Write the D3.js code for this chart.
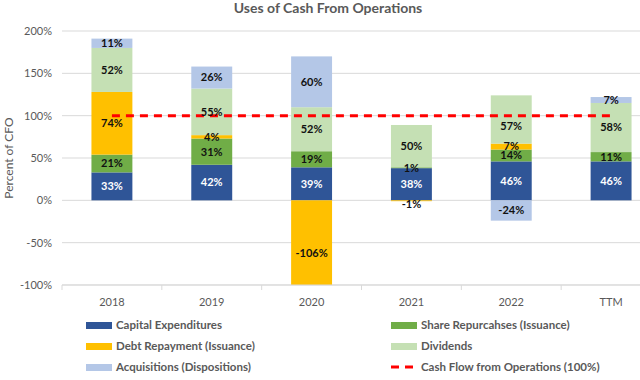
<!DOCTYPE html>
<html>
<head>
<meta charset="utf-8">
<script src="https://cdn.jsdelivr.net/npm/d3@7"></script>
<style>
  body { margin: 0; background: #fff; }
  text { font-family: Lato, "Open Sans", sans-serif; }
</style>
</head>
<body>
<div id="chart"></div>
<script>
// data
var years = ["2018", "2019", "2020", "2021", "2022", "TTM"];
var capex = [33, 42, 39, 38, 46, 46];
var shares = [21, 31, 19, 1, 14, 11];
var debt = [74, 4, -106, -1, 7, 0];
var dividends = [52, 55, 52, 50, 57, 58];
var acquisitions = [11, 26, 60, 0, -24, 7];
var cfoLine = [100, 100, 100, 100, 100, 100];
var yTicks = [-100, -50, 0, 50, 100, 150, 200];

var seriesNames = ["Capital Expenditures", "Share Repurcahses (Issuance)", "Debt Repayment (Issuance)", "Dividends", "Acquisitions (Dispositions)"];
var seriesValues = [capex, shares, debt, dividends, acquisitions];
var seriesColors = ["#2F5597", "#70AD47", "#FFC000", "#C5E0B4", "#B4C7E7"];
var labelColors = ["#fff", "#111", "#111", "#111", "#111"];

var svgWidth = 640;
var svgHeight = 380;

var margin = { top: 31, right: -21, bottom: 95, left: 62 };
var width = svgWidth - margin.left - margin.right;
var height = svgHeight - margin.top - margin.bottom;

var svg = d3.select("#chart").append("svg")
  .attr("width", svgWidth)
  .attr("height", svgHeight);

svg.append("text")
  .attr("x", 328)
  .attr("y", 13)
  .attr("text-anchor", "middle")
  .attr("font-size", 14)
  .attr("font-weight", "bold")
  .attr("fill", "#595959")
  .text("Uses of Cash From Operations");

var chartGroup = svg.append("g")
  .attr("transform", `translate(${margin.left}, ${margin.top})`);

var x = d3.scaleBand().domain(years).range([0, width]).paddingInner(0.59).paddingOuter(0.295);
var y = d3.scaleLinear().domain([-100, 200]).range([height, 0]);

// gridlines
chartGroup.selectAll(".grid").data(yTicks).enter()
  .append("line")
  .attr("x1", 0).attr("x2", width)
  .attr("y1", d => y(d)).attr("y2", d => y(d))
  .attr("stroke", "#d9d9d9").attr("stroke-width", 1);

// y tick labels
chartGroup.selectAll(".ytick").data(yTicks).enter()
  .append("text")
  .attr("x", -10)
  .attr("y", d => y(d))
  .attr("dy", "0.35em")
  .attr("text-anchor", "end")
  .attr("font-size", 11)
  .attr("fill", "#595959")
  .text(d => d + "%");

// stack positives and negatives separately
var stacks = [];
years.forEach(function(yr, i) {
  var pos = 0, neg = 0;
  seriesValues.forEach(function(vals, s) {
    var v = vals[i];
    if (v === 0) return;
    var y0, y1;
    if (v > 0) { y0 = pos; y1 = pos + v; pos = y1; }
    else { y0 = neg; y1 = neg + v; neg = y1; }
    stacks.push({ year: yr, s: s, v: v, y0: y0, y1: y1 });
  });
});

var clip = d => Math.max(-100, Math.min(200, d));

chartGroup.selectAll(".bar").data(stacks).enter()
  .append("rect")
  .attr("x", d => x(d.year))
  .attr("width", x.bandwidth())
  .attr("y", d => y(clip(Math.max(d.y0, d.y1))))
  .attr("height", d => Math.abs(y(clip(d.y0)) - y(clip(d.y1))))
  .attr("fill", d => seriesColors[d.s]);

// x axis
chartGroup.append("line")
  .attr("x1", 0).attr("x2", width)
  .attr("y1", height).attr("y2", height)
  .attr("stroke", "#d9d9d9");

var step = x.step();
chartGroup.selectAll(".xtick").data(d3.range(years.length + 1)).enter()
  .append("line")
  .attr("x1", d => d * step).attr("x2", d => d * step)
  .attr("y1", height).attr("y2", height + 5)
  .attr("stroke", "#d9d9d9");

chartGroup.selectAll(".xlabel").data(years).enter()
  .append("text")
  .attr("x", d => x(d) + x.bandwidth() / 2)
  .attr("y", height + 21)
  .attr("text-anchor", "middle")
  .attr("font-size", 11)
  .attr("fill", "#595959")
  .text(d => d);

// cash flow from operations line
var line = d3.line()
  .x((d, i) => x(years[i]) + x.bandwidth() / 2)
  .y(d => y(d));

chartGroup.append("path")
  .datum(cfoLine)
  .attr("d", line)
  .attr("fill", "none")
  .attr("stroke", "#FF0000")
  .attr("stroke-width", 3)
  .attr("stroke-dasharray", "8,6");

// data labels
chartGroup.selectAll(".dlabel").data(stacks).enter()
  .append("text")
  .attr("x", d => x(d.year) + x.bandwidth() / 2)
  .attr("y", function(d) {
    // tiny segment: label sits just under the bar
    if (Math.abs(d.v) < 2 && d.v < 0) return y(d.y0) + 4;
    var mid = (d.y0 + d.y1) / 2;
    // clipped bar: Excel drops the label lower
    if (d.y1 < -100) return y(mid) + 8;
    // 2022 dividends label sits a bit low in the original
    if (d.year === "2022" && d.s === 3) return y(mid) + 7;
    return y(mid);
  })
  .attr("dy", "0.35em")
  .attr("text-anchor", "middle")
  .attr("font-size", 11)
  .attr("font-weight", "bold")
  .attr("fill", d => labelColors[d.s])
  .text(d => d.v + "%");

// y axis title
svg.append("text")
  .attr("transform", "translate(13," + (margin.top + y(50)) + ")rotate(-90)")
  .attr("text-anchor", "middle")
  .attr("font-size", 12)
  .attr("fill", "#595959")
  .text("Percent of CFO");

// legend
var legendItems = [
  { name: seriesNames[0], color: seriesColors[0], col: 0, row: 0 },
  { name: seriesNames[1], color: seriesColors[1], col: 1, row: 0 },
  { name: seriesNames[2], color: seriesColors[2], col: 0, row: 1 },
  { name: seriesNames[3], color: seriesColors[3], col: 1, row: 1 },
  { name: seriesNames[4], color: seriesColors[4], col: 0, row: 2 },
  { name: "Cash Flow from Operations (100%)", color: "#FF0000", col: 1, row: 2, dashed: true }
];

var legend = svg.selectAll(".legend").data(legendItems).enter()
  .append("g")
  .attr("transform", d => "translate(" + (d.col ? 391 : 86) + "," + (325 + d.row * 21) + ")");

legend.filter(d => !d.dashed).append("rect")
  .attr("x", 0).attr("y", -3)
  .attr("width", 26).attr("height", 7)
  .attr("fill", d => d.color);

legend.filter(d => d.dashed).append("line")
  .attr("x1", 0).attr("x2", 26)
  .attr("y1", 0).attr("y2", 0)
  .attr("stroke", "#FF0000")
  .attr("stroke-width", 3)
  .attr("stroke-dasharray", "8,6");

legend.append("text")
  .attr("x", 30)
  .attr("y", 0)
  .attr("dy", "0.35em")
  .attr("font-size", 11.5)
  .attr("font-weight", "bold")
  .attr("fill", "#595959")
  .text(d => d.name);
</script>
</body>
</html>
